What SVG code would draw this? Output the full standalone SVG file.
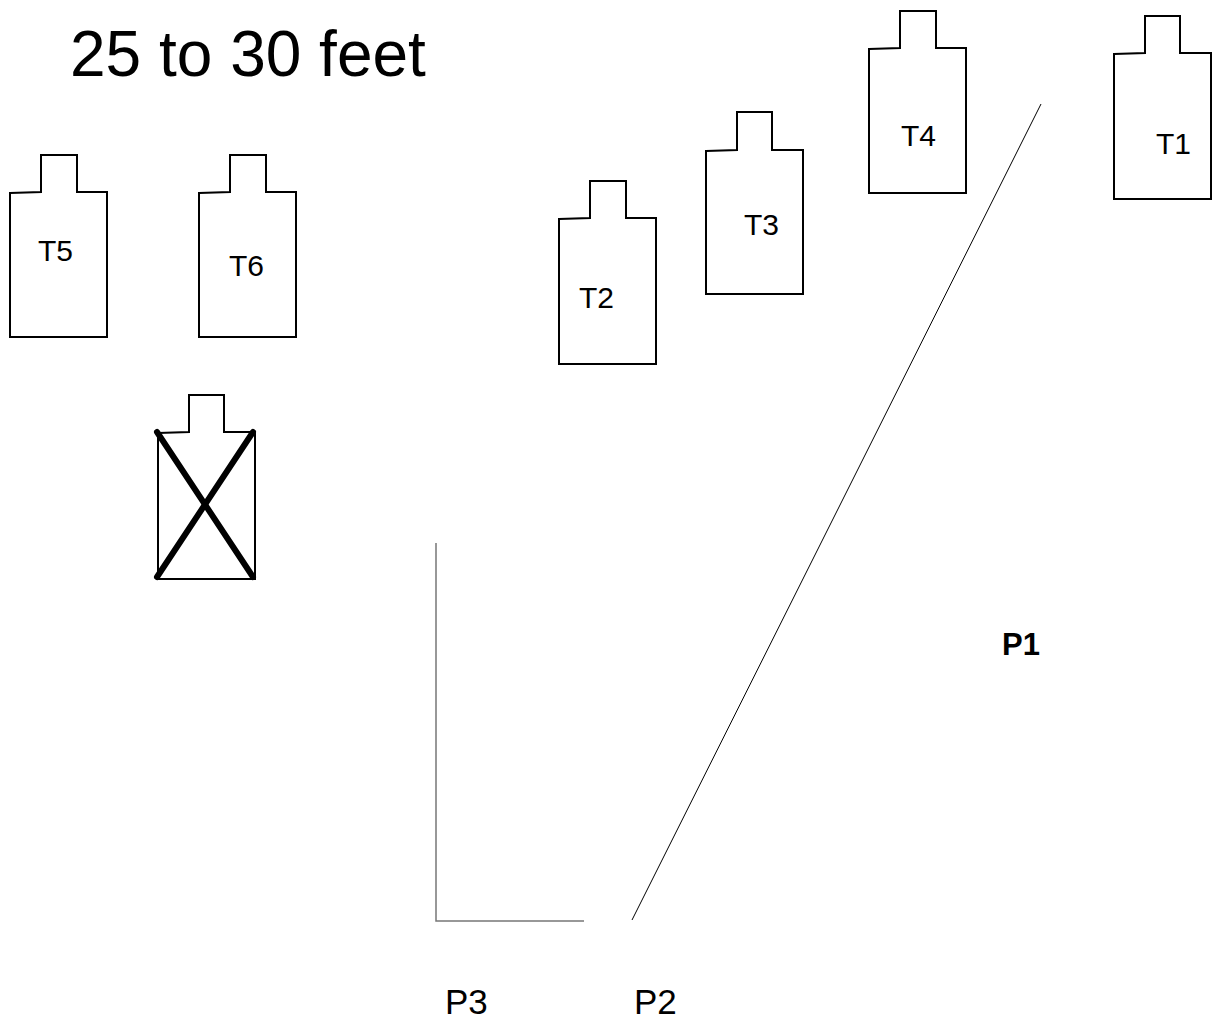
<svg xmlns="http://www.w3.org/2000/svg" width="1220" height="1022" viewBox="0 0 1220 1022">
<style>
.t{fill:none;stroke:#000;stroke-width:2;stroke-linejoin:miter}
.lbl{font-family:"Liberation Sans",Arial,sans-serif;font-size:30px;fill:#000}
.x{stroke:#000;stroke-width:6;stroke-linecap:round}
</style>
<rect width="1220" height="1022" fill="#fff"/>
<text x="70" y="76" font-family="Liberation Sans, Arial, sans-serif" font-size="64">25 to 30 feet</text>
<g id="T5"><path class="t" d="M10,193 L41,192 L41,155 L77,155 L77,192 L107,192 L107,337 L10,337 Z"/><text class="lbl" x="38" y="261">T5</text></g>
<g id="T6"><path class="t" d="M199,193 L230,192 L230,155 L266,155 L266,192 L296,192 L296,337 L199,337 Z"/><text class="lbl" x="229" y="276">T6</text></g>
<g id="TX"><path class="t" d="M158,433 L189,432 L189,395 L224,395 L224,432 L255,432 L255,579 L158,579 Z"/><line class="x" x1="157" y1="432" x2="253" y2="577"/><line class="x" x1="253" y1="432" x2="157" y2="577"/></g>
<g id="T2"><path class="t" d="M559,219 L590,218 L590,181 L626,181 L626,218 L656,218 L656,364 L559,364 Z"/><text class="lbl" x="579" y="308">T2</text></g>
<g id="T3"><path class="t" d="M706,151 L737,150 L737,112 L772,112 L772,150 L803,150 L803,294 L706,294 Z"/><text class="lbl" x="744" y="235">T3</text></g>
<g id="T4"><path class="t" d="M869,49 L900,48 L900,11 L936,11 L936,48 L966,48 L966,193 L869,193 Z"/><text class="lbl" x="901" y="146">T4</text></g>
<g id="T1"><path class="t" d="M1114,54 L1145,53 L1145,16 L1180,16 L1180,53 L1211,53 L1211,199 L1114,199 Z"/><text class="lbl" x="1156" y="154">T1</text></g>
<g id="connectors">
<line x1="1041" y1="104" x2="632" y2="920" stroke="#000" stroke-width="1"/>
<path d="M436,543 V921 H584" fill="none" stroke="#777" stroke-width="1.5"/>
</g>
<text x="1002" y="655" font-family="Liberation Sans, Arial, sans-serif" font-size="31" font-weight="bold">P1</text>
<text x="445" y="1014" font-family="Liberation Sans, Arial, sans-serif" font-size="35">P3</text>
<text x="634" y="1014" font-family="Liberation Sans, Arial, sans-serif" font-size="35">P2</text>
</svg>
